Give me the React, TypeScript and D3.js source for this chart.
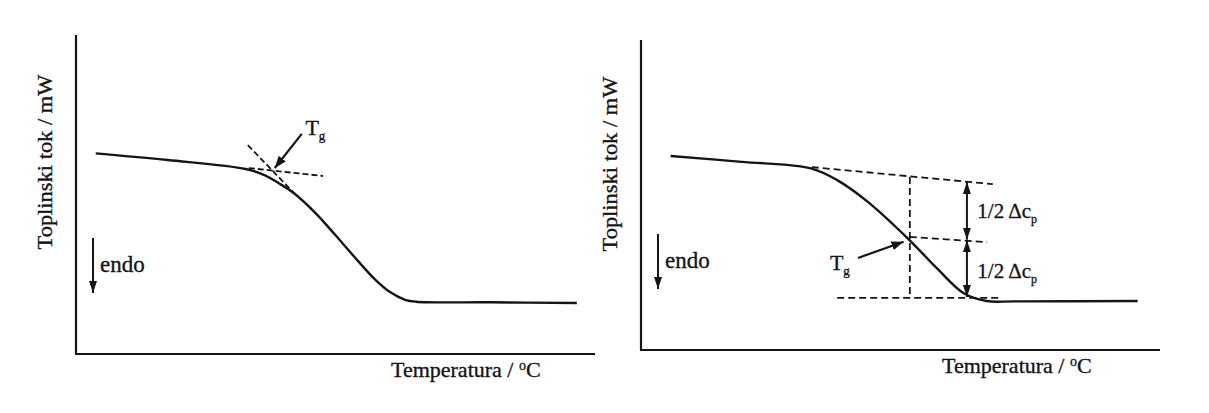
import React from "react";
import * as d3 from "d3";

const W = 1209;
const H = 413;

// ---------- data (temperature 0..100, heat flow 0..100, arbitrary units) ----------
const leftTemp = [3.8, 17.7, 32.7, 36.3, 39.1, 42.0, 46.2, 49.8, 53.4, 57.6, 60.5, 63.4, 65.5, 80, 96.5];
const leftFlow = [62.9, 60.8, 58.0, 56.1, 53.5, 50.4, 44.1, 37.6, 30.9, 23.4, 19.4, 17.0, 16.4, 16.2, 16.0];
// dashed tangents [t1, h1, t2, h2]
const leftTangents = [
  [33.3, 58.3, 47.6, 55.8],
  [33.1, 65.5, 42.4, 49.8],
];
const leftTgArrow = [43.5, 69.0, 38.3, 58.3];
const leftTgLabel = [44.2, 68.8];

const rightTemp = [5.7, 19.4, 32.7, 37.8, 43.7, 51.1, 57.0, 62.2, 66.6, 72, 95.7];
const rightFlow = [62.6, 60.7, 58.6, 54.8, 47.8, 36.5, 26.4, 18.3, 15.8, 15.7, 15.8];
const rightDashed = [
  [32.9, 59.0, 67.8, 53.5],
  [51.8, 36.5, 66.7, 34.8],
  [37.8, 16.8, 69.6, 16.8],
  [51.8, 55.8, 51.8, 17.1],
];
const rightDoubleArrows = [
  [62.8, 54.2, 62.8, 35.6],
  [62.8, 35.4, 62.8, 17.1],
];
const rightHalfLabels = [
  [64.8, 42.6],
  [64.8, 23.2],
];
const rightTgArrow = [41.8, 29.7, 50.6, 34.9];
const rightTgLabel = [36.4, 25.8];

const yTitle = "Toplinski tok / mW";
const xTitle = "Temperatura / ";
const endoLabel = "endo";
const halfLabel = "1/2 \u0394c";

const FONT = "'Liberation Serif', 'Times New Roman', serif";
const INK = "#151515";
const TEXT_STROKE = { stroke: INK, strokeWidth: 0.35 };

type Panel = {
  x: d3.ScaleLinear<number, number>;
  y: d3.ScaleLinear<number, number>;
};

function Axes({ p, yTitleX, yTitleY, xTitleX }: { p: Panel; yTitleX: number; yTitleY: number; xTitleX: number }) {
  const [x0, x1] = p.x.range();
  const [y0, y1] = p.y.range();
  return (
    <g>
      <line x1={x0} y1={y1} x2={x0} y2={y0} stroke={INK} strokeWidth={2.2} />
      <line x1={x0 - 1} y1={y0} x2={x1} y2={y0} stroke={INK} strokeWidth={2.2} />
      <text
        transform={`translate(${yTitleX},${yTitleY}) rotate(-90)`}
        textAnchor="middle"
        fontFamily={FONT}
        fontSize={21}
        fill={INK}
        textLength={175}
        lengthAdjust="spacingAndGlyphs"
        {...TEXT_STROKE}
      >
        {yTitle}
      </text>
      <text x={xTitleX} y={y0 + 23} fontFamily={FONT} fontSize={22} fill={INK} {...TEXT_STROKE}>
        {xTitle}
        <tspan fontSize={14} dy={-7}>o</tspan>
        <tspan dy={7}>C</tspan>
      </text>
    </g>
  );
}

function Endo({ p }: { p: Panel }) {
  const [x0] = p.x.range();
  const [y0] = p.y.range();
  const ax = x0 + 17;
  return (
    <g>
      <line x1={ax} y1={y0 - 116} x2={ax} y2={y0 - 61} stroke={INK} strokeWidth={2} markerEnd="url(#ahEndo)" />
      <text x={ax + 7} y={y0 - 82} fontFamily={FONT} fontSize={23} fill={INK} {...TEXT_STROKE}>
        {endoLabel}
      </text>
    </g>
  );
}

function Tg({ x, y }: { x: number; y: number }) {
  return (
    <text x={x} y={y} fontFamily={FONT} fontSize={22} fill={INK} {...TEXT_STROKE}>
      T<tspan fontSize={13} dy={5}>g</tspan>
    </text>
  );
}

export default function App() {
  const left: Panel = {
    x: d3.scaleLinear().domain([0, 100]).range([76, 595]),
    y: d3.scaleLinear().domain([0, 100]).range([354, 35]),
  };
  const right: Panel = {
    x: d3.scaleLinear().domain([0, 100]).range([641, 1160]),
    y: d3.scaleLinear().domain([0, 100]).range([350, 40]),
  };

  const mkLine = (p: Panel) =>
    d3
      .line<[number, number]>()
      .x((d) => p.x(d[0]))
      .y((d) => p.y(d[1]))
      .curve(d3.curveCatmullRom.alpha(0.5));

  const leftPath = mkLine(left)(leftTemp.map((t, i) => [t, leftFlow[i]]) as [number, number][]);
  const rightPath = mkLine(right)(rightTemp.map((t, i) => [t, rightFlow[i]]) as [number, number][]);

  const seg = (p: Panel, s: number[], key: string, extra: any = {}) => (
    <line
      key={key}
      x1={p.x(s[0])}
      y1={p.y(s[1])}
      x2={p.x(s[2])}
      y2={p.y(s[3])}
      stroke={INK}
      {...extra}
    />
  );

  return (
    <div style={{ position: "absolute", left: 0, top: 0 }}>
      <svg width={W} height={H} viewBox={`0 0 ${W} ${H}`} style={{ display: "block", background: "#fff" }}>
        <defs>
          <marker id="ahEndo" viewBox="0 0 12 8" refX="12" refY="4" markerWidth="12" markerHeight="8" orient="auto" markerUnits="userSpaceOnUse">
            <path d="M0,0 L12,4 L0,8 z" fill={INK} />
          </marker>
          <marker id="ahTg" viewBox="0 0 12 9" refX="12" refY="4.5" markerWidth="12" markerHeight="9" orient="auto" markerUnits="userSpaceOnUse">
            <path d="M0,0 L12,4.5 L0,9 z" fill={INK} />
          </marker>
          <marker id="ahDbl" viewBox="0 0 12 8" refX="12" refY="4" markerWidth="12" markerHeight="8" orient="auto-start-reverse" markerUnits="userSpaceOnUse">
            <path d="M0,0 L12,4 L0,8 z" fill={INK} />
          </marker>
        </defs>
        <rect width={W} height={H} fill="#fff" />

        {/* Left panel */}
        <Axes p={left} yTitleX={52} yTitleY={162} xTitleX={391} />
        <Endo p={left} />
        <path d={leftPath ?? ""} fill="none" stroke={INK} strokeWidth={2.4} />
        {leftTangents.map((s, i) =>
          seg(left, s, "lt" + i, { strokeWidth: 1.8, strokeDasharray: "6 3" })
        )}
        {seg(left, leftTgArrow, "lta", { strokeWidth: 2.2, markerEnd: "url(#ahTg)" })}
        <Tg x={left.x(leftTgLabel[0])} y={left.y(leftTgLabel[1])} />

        {/* Right panel */}
        <Axes p={right} yTitleX={617} yTitleY={164} xTitleX={942} />
        <Endo p={right} />
        <path d={rightPath ?? ""} fill="none" stroke={INK} strokeWidth={2.4} />
        {rightDashed.map((s, i) =>
          seg(right, s, "rd" + i, { strokeWidth: 1.8, strokeDasharray: "7 4" })
        )}
        {rightDoubleArrows.map((s, i) =>
          seg(right, s, "ra" + i, {
            strokeWidth: 2,
            markerStart: "url(#ahDbl)",
            markerEnd: "url(#ahDbl)",
          })
        )}
        {rightHalfLabels.map((l, i) => (
          <text key={"hl" + i} x={right.x(l[0])} y={right.y(l[1])} fontFamily={FONT} fontSize={21} fill={INK} {...TEXT_STROKE}>
            {halfLabel}
            <tspan fontSize={12} dy={5}>p</tspan>
          </text>
        ))}
        {seg(right, rightTgArrow, "rta", { strokeWidth: 2.2, markerEnd: "url(#ahTg)" })}
        <Tg x={right.x(rightTgLabel[0])} y={right.y(rightTgLabel[1])} />
      </svg>
    </div>
  );
}
